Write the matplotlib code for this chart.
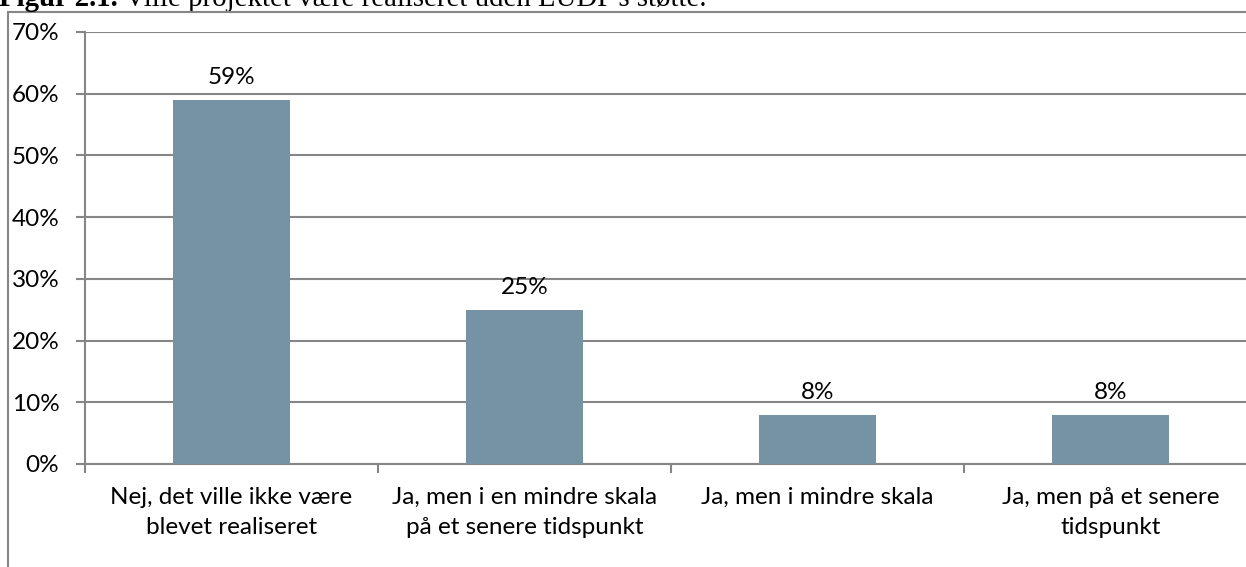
import matplotlib
matplotlib.use("Agg")
from matplotlib import pyplot as plt
from matplotlib.patches import Rectangle
from matplotlib.ticker import MultipleLocator, FuncFormatter

# data
categories = ["Nej, det ville ikke være\nblevet realiseret",
              "Ja, men i en mindre skala\npå et senere tidspunkt",
              "Ja, men i mindre skala",
              "Ja, men på et senere\ntidspunkt"]
values = [59, 25, 8, 8]
value_labels = ["59%", "25%", "8%", "8%"]

bar_color = "#7692A5"
grid_color = "#868686"
font = "Lato"
fs = 17.5

W, H = 1246, 567
fig = plt.figure(figsize=(W / 100, H / 100), dpi=100)

# chart frame (cut off at the right and bottom in the original)
fig.patches.append(Rectangle((8 / W, -0.1), 1.2, 1 - 12 / H + 0.1,
                             transform=fig.transFigure, fill=False,
                             edgecolor=grid_color, linewidth=1.5))

# axes spans one category width per bar, right side runs past the image
left = 85 / W
cat_w = 293 / W
ax = fig.add_axes([left, 1 - 464 / H, 4 * cat_w, (464 - 32) / H])

# figure caption, partly cut off at the top
t1 = fig.text(-0.001, 1 - 6 / H, "Figur 2.1.", family="Liberation Serif",
              fontsize=20.8, fontweight="bold", va="baseline", ha="left")
ax.annotate(" Ville projektet være realiseret uden LUDP's støtte.",
            xy=(1, 0), xycoords=t1, va="bottom", ha="left",
            family="Liberation Serif", fontsize=20.8, annotation_clip=False)

x = range(len(categories))
ax.bar(x, values, width=0.40, color=bar_color, zorder=3)

for xi, v, lab in zip(x, values, value_labels):
    ax.annotate(lab, (xi, v), xytext=(0, 11.5), textcoords="offset points",
                ha="center", va="baseline", fontsize=fs, family=font)

ax.set_xlim(-0.5, 3.5)
ax.set_ylim(0, 70)
ax.yaxis.set_major_locator(MultipleLocator(10))
ax.yaxis.set_major_formatter(FuncFormatter(lambda v, p: f"{v:.0f}%"))
ax.grid(axis="y", color=grid_color, linewidth=1.5, zorder=0)

ax.set_xticks([0.5 + i for i in range(-1, 4)])
ax.set_xticklabels([])
ax.set_xticks(list(x), minor=True)
ax.set_xticklabels(categories, minor=True, fontsize=fs, family=font,
                   linespacing=1.55)
ax.tick_params(axis="x", which="minor", length=0, pad=16.5)
ax.tick_params(axis="x", which="major", length=6.5, width=1.5, color=grid_color)
ax.tick_params(axis="y", length=6.5, width=1.5, color=grid_color,
               labelsize=fs, pad=12)
for lab in ax.get_yticklabels():
    lab.set_family(font)

for s in ["top", "right"]:
    ax.spines[s].set_visible(False)
for s in ["left", "bottom"]:
    ax.spines[s].set_color(grid_color)
    ax.spines[s].set_linewidth(1.5)

fig.savefig("out.png", dpi=100)
